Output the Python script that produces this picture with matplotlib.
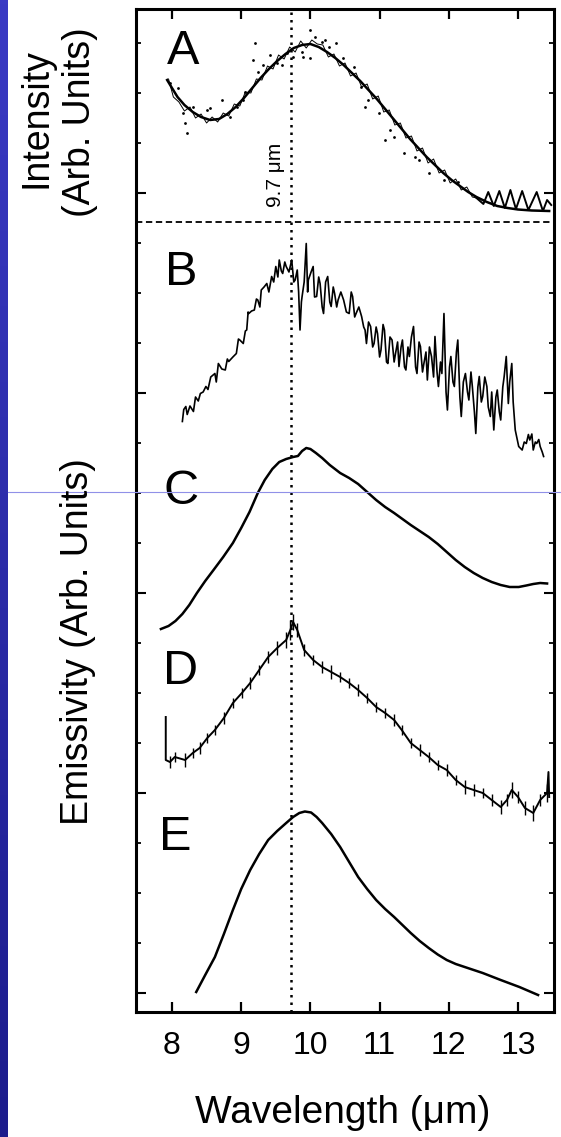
import matplotlib
matplotlib.use("Agg")
import matplotlib.pyplot as plt
import numpy as np
from matplotlib.lines import Line2D
from matplotlib.colors import LinearSegmentedColormap

plt.rcParams['font.family'] = ['Liberation Sans', 'DejaVu Sans']

# ---------------- data (wavelength in micron, intensity/emissivity in arbitrary stacked units)
xticks = [8, 9, 10, 11, 12, 13]
xticklabels = ["8", "9", "10", "11", "12", "13"]
panel_labels = ["A", "B", "C", "D", "E"]
panel_label_x = [8.16, 8.13, 8.13, 8.12, 8.04]
panel_label_y = [19.22, 14.78, 10.40, 6.82, 3.48]
line_wavelength = 9.72
sep_level = 15.80

A_fit_x = [7.93, 8.00, 8.08, 8.18, 8.30, 8.42, 8.55, 8.68, 8.80, 8.92, 9.04, 9.16, 9.28, 9.40,
           9.52, 9.64, 9.76, 9.88, 10.00, 10.12, 10.24, 10.36, 10.48, 10.60, 10.72, 10.84, 10.96,
           11.08, 11.20, 11.32, 11.44, 11.56, 11.68, 11.80, 11.92, 12.04, 12.16, 12.28, 12.40,
           12.55, 12.70, 12.85, 13.00, 13.20, 13.45]
A_fit_y = [18.64, 18.48, 18.30, 18.14, 18.00, 17.90, 17.84, 17.86, 17.96, 18.10, 18.28, 18.48,
           18.68, 18.86, 19.02, 19.16, 19.28, 19.34, 19.36, 19.30, 19.20, 19.08, 18.94, 18.78,
           18.62, 18.44, 18.26, 18.06, 17.86, 17.66, 17.46, 17.28, 17.10, 16.94, 16.78, 16.64,
           16.52, 16.40, 16.30, 16.20, 16.12, 16.08, 16.05, 16.03, 16.02]
A_data_x = [7.95, 8.02, 8.10, 8.18, 8.26, 8.34, 8.42, 8.50, 8.58, 8.66, 8.74, 8.82, 8.90, 8.98,
            9.06, 9.14, 9.22, 9.30, 9.38, 9.46, 9.54, 9.62, 9.70, 9.78, 9.86, 9.94, 10.02, 10.10,
            10.18, 10.26, 10.34, 10.42, 10.50, 10.58, 10.66, 10.74, 10.82, 10.90, 10.98, 11.06,
            11.14, 11.22, 11.30, 11.38, 11.46, 11.54, 11.62, 11.70, 11.78, 11.86, 11.94, 12.02,
            12.10, 12.18, 12.26, 12.34, 12.40]
A_data_y = [18.66, 18.30, 18.20, 18.02, 18.10, 17.88, 17.96, 17.78, 17.90, 17.80, 17.98, 17.92,
            18.16, 18.12, 18.40, 18.38, 18.66, 18.64, 18.92, 18.86, 19.14, 19.06, 19.30, 19.20,
            19.42, 19.28, 19.44, 19.36, 19.34, 19.10, 19.16, 18.92, 18.98, 18.72, 18.78, 18.50,
            18.56, 18.26, 18.32, 18.00, 18.04, 17.74, 17.78, 17.48, 17.52, 17.22, 17.28, 16.98,
            17.06, 16.78, 16.84, 16.58, 16.66, 16.44, 16.50, 16.30, 16.28]
A_dots_x = [7.97, 8.09, 8.16, 8.22, 8.19, 8.30, 8.51, 8.55, 8.72, 8.84, 8.94, 9.03, 9.05, 9.20,
            9.17, 9.24, 9.32, 9.42, 9.52, 9.59, 9.66, 9.75, 9.88, 9.89, 9.99, 9.99, 10.07, 10.17,
            10.21, 10.27, 10.37, 10.47, 10.63, 10.73, 10.83, 10.99, 11.15, 11.21, 11.35, 11.57,
            11.71, 11.93, 12.13, 10.79, 11.08, 11.51]
A_dots_y = [18.58, 18.48, 17.98, 17.58, 17.78, 18.10, 18.04, 18.08, 18.24, 17.90, 18.10, 18.24,
            18.40, 19.38, 19.04, 18.80, 18.94, 19.14, 18.98, 18.94, 19.18, 19.10, 19.20, 19.10,
            19.08, 19.64, 19.50, 19.40, 19.44, 19.30, 19.38, 19.08, 18.90, 18.50, 18.24, 17.98,
            17.64, 17.50, 17.18, 17.04, 16.78, 16.64, 16.60, 18.10, 17.44, 17.10]
A_wig_x = [12.40, 12.50, 12.57, 12.65, 12.73, 12.81, 12.89, 12.97, 13.06, 13.15, 13.27, 13.36, 13.42, 13.48]
A_wig_y = [16.28, 16.16, 16.40, 16.12, 16.42, 16.08, 16.44, 16.06, 16.42, 16.04, 16.40, 16.02, 16.24, 16.14]

B_x = [8.15, 8.17, 8.20, 8.22, 8.26, 8.31, 8.34, 8.38, 8.41, 8.45, 8.49, 8.52, 8.56, 8.62, 8.64,
       8.67, 8.72, 8.77, 8.80, 8.82, 8.88, 8.93, 8.96, 8.98, 9.03, 9.06, 9.08, 9.10, 9.11, 9.15,
       9.19, 9.22, 9.24, 9.27, 9.29, 9.33, 9.37, 9.40, 9.44, 9.47, 9.50, 9.53, 9.55, 9.58, 9.60,
       9.63, 9.65, 9.69, 9.73, 9.76, 9.78, 9.81, 9.83, 9.85, 9.87, 9.88, 9.91, 9.94, 9.96, 9.97,
       10.01, 10.04, 10.06, 10.09, 10.12, 10.14, 10.17, 10.19, 10.22, 10.25, 10.28, 10.30, 10.33,
       10.35, 10.38, 10.40, 10.44, 10.48, 10.52, 10.56, 10.59, 10.61, 10.64, 10.66, 10.70, 10.74,
       10.77, 10.79, 10.81, 10.84, 10.87, 10.90, 10.92, 10.95, 10.97, 11.00, 11.02, 11.05, 11.07,
       11.10, 11.12, 11.15, 11.18, 11.21, 11.23, 11.26, 11.28, 11.31, 11.33, 11.36, 11.38, 11.41,
       11.43, 11.46, 11.49, 11.52, 11.54, 11.57, 11.59, 11.62, 11.64, 11.67, 11.69, 11.72, 11.75,
       11.78, 11.80, 11.83, 11.85, 11.88, 11.90, 11.93, 11.96, 11.98, 12.01, 12.03, 12.06, 12.08,
       12.11, 12.13, 12.16, 12.18, 12.21, 12.24, 12.27, 12.29, 12.32, 12.34, 12.37, 12.39, 12.42,
       12.44, 12.47, 12.49, 12.52, 12.55, 12.57, 12.60, 12.62, 12.65, 12.68, 12.70, 12.73, 12.75,
       12.78, 12.80, 12.83, 12.86, 12.88, 12.91, 12.93, 12.96, 13.01, 13.06, 13.09, 13.12, 13.15,
       13.17, 13.20, 13.22, 13.25, 13.27, 13.30, 13.32, 13.35, 13.37]
B_y = [11.81, 12.05, 12.11, 11.95, 12.12, 12.01, 12.30, 12.22, 12.37, 12.40, 12.51, 12.45, 12.70,
       12.77, 12.60, 12.97, 12.86, 12.84, 13.06, 13.01, 13.10, 13.17, 13.46, 13.44, 13.37, 13.62,
       13.64, 14.00, 13.97, 14.02, 14.04, 14.26, 14.24, 14.10, 14.44, 14.50, 14.57, 14.40, 14.71,
       14.60, 14.91, 14.70, 15.04, 14.82, 14.77, 15.00, 14.91, 14.80, 15.04, 14.60, 14.64, 14.84,
       14.40, 13.64, 14.20, 14.31, 14.60, 15.37, 14.40, 14.64, 14.80, 14.91, 14.30, 14.31, 14.70,
       14.57, 14.10, 13.97, 14.60, 14.71, 14.20, 14.11, 14.50, 14.37, 14.10, 14.24, 14.40, 14.24,
       14.00, 13.97, 14.40, 14.31, 13.90, 13.97, 14.10, 13.91, 13.70, 13.64, 13.37, 13.80, 13.71,
       13.30, 13.37, 13.70, 13.57, 13.10, 13.24, 13.75, 13.64, 13.00, 12.97, 13.50, 13.44, 13.00,
       13.17, 13.40, 12.91, 13.30, 13.44, 12.90, 12.84, 13.30, 13.11, 13.50, 13.71, 12.90, 12.77,
       13.40, 13.31, 12.80, 12.97, 13.20, 12.64, 13.30, 13.11, 12.70, 13.51, 12.80, 12.51, 13.00,
       12.77, 13.97, 12.40, 12.04, 12.90, 13.11, 12.60, 12.51, 13.20, 13.44, 12.30, 11.91, 12.60,
       12.77, 12.40, 12.24, 12.80, 12.51, 12.00, 11.57, 12.50, 12.71, 12.20, 12.31, 12.70, 12.51,
       12.10, 11.91, 12.40, 11.64, 12.30, 12.44, 12.00, 11.84, 12.50, 12.71, 13.11, 12.17, 12.60,
       12.97, 12.20, 11.64, 11.31, 11.24, 11.40, 11.37, 11.55, 11.44, 11.56, 11.24, 11.40, 11.37,
       11.45, 11.31, 11.20, 11.11]

C_x = [7.84, 7.95, 8.05, 8.15, 8.25, 8.36, 8.48, 8.60, 8.74, 8.88, 9.00, 9.12, 9.24, 9.34, 9.45,
       9.55, 9.65, 9.75, 9.82, 9.88, 9.94, 10.00, 10.08, 10.17, 10.28, 10.43, 10.56, 10.69, 10.82,
       10.95, 11.08, 11.21, 11.33, 11.45, 11.58, 11.71, 11.84, 11.97, 12.10, 12.23, 12.36, 12.49,
       12.62, 12.75, 12.88, 13.01, 13.12, 13.22, 13.32, 13.42]
C_y = [7.66, 7.72, 7.82, 7.96, 8.14, 8.38, 8.62, 8.84, 9.10, 9.38, 9.68, 10.00, 10.38, 10.64, 10.86,
       11.00, 11.06, 11.10, 11.12, 11.22, 11.28, 11.26, 11.18, 11.08, 10.94, 10.78, 10.68, 10.56,
       10.40, 10.24, 10.10, 9.98, 9.86, 9.74, 9.62, 9.50, 9.36, 9.20, 9.04, 8.90, 8.78, 8.68, 8.60,
       8.54, 8.50, 8.50, 8.53, 8.56, 8.58, 8.57]

D_x = [7.91, 7.91, 7.97, 8.04, 8.19, 8.30, 8.40, 8.51, 8.62, 8.75, 8.88, 9.01, 9.13, 9.26, 9.39,
       9.52, 9.65, 9.71, 9.75, 9.81, 9.91, 10.04, 10.17, 10.30, 10.43, 10.56, 10.69, 10.82, 10.95,
       11.08, 11.21, 11.32, 11.45, 11.58, 11.71, 11.84, 11.97, 12.10, 12.23, 12.36, 12.49, 12.62,
       12.75, 12.84, 12.91, 13.00, 13.10, 13.22, 13.32, 13.42, 13.44, 13.45]
D_y = [5.90, 5.04, 5.00, 5.10, 5.04, 5.18, 5.28, 5.48, 5.64, 5.88, 6.18, 6.38, 6.58, 6.84, 7.10,
       7.28, 7.44, 7.64, 7.80, 7.64, 7.24, 7.04, 6.90, 6.80, 6.70, 6.58, 6.44, 6.28, 6.10, 5.98,
       5.84, 5.64, 5.38, 5.24, 5.10, 4.94, 4.84, 4.64, 4.50, 4.44, 4.38, 4.24, 4.10, 4.24, 4.44,
       4.30, 4.08, 3.98, 4.24, 4.38, 4.80, 4.30]
D_err = [0.0, 0.0, 0.12, 0.10, 0.14, 0.10, 0.12, 0.10, 0.10, 0.12, 0.10, 0.10, 0.12, 0.10, 0.12,
         0.14, 0.16, 0.20, 0.16, 0.14, 0.12, 0.10, 0.12, 0.14, 0.10, 0.10, 0.12, 0.10, 0.10, 0.10,
         0.12, 0.10, 0.10, 0.12, 0.10, 0.10, 0.12, 0.10, 0.14, 0.12, 0.10, 0.12, 0.14, 0.12, 0.16,
         0.12, 0.14, 0.16, 0.12, 0.18, 0.0, 0.0]

E_x = [8.35, 8.48, 8.62, 8.75, 8.88, 9.00, 9.13, 9.26, 9.39, 9.52, 9.65, 9.75, 9.84, 9.92, 10.01,
       10.09, 10.17, 10.30, 10.43, 10.56, 10.69, 10.82, 10.95, 11.08, 11.21, 11.33, 11.45, 11.58,
       11.71, 11.84, 11.97, 12.10, 12.23, 12.49, 12.75, 13.02, 13.29]
E_y = [0.40, 0.74, 1.10, 1.56, 2.04, 2.46, 2.84, 3.16, 3.44, 3.62, 3.78, 3.90, 3.98, 4.01, 3.99,
       3.90, 3.78, 3.56, 3.30, 3.00, 2.70, 2.46, 2.24, 2.06, 1.90, 1.74, 1.58, 1.42, 1.28, 1.15,
       1.04, 0.96, 0.90, 0.78, 0.64, 0.50, 0.34]

ytick_major = [0.38, 4.38, 8.38, 12.38, 16.38]
ytick_minor = [0.38 + k for k in range(20)]

# ---------------- figure
W, H = 561, 1137
fig = plt.figure(figsize=(W / 100, H / 100), dpi=100)
fig.patch.set_facecolor('white')

# blue slide strip on the left
bax = fig.add_axes([0, 0, 8 / W, 1])
grad = np.linspace(0, 1, 256).reshape(-1, 1)
cm = LinearSegmentedColormap.from_list('b', ['#3a3ac4', '#1c1c8c'])
bax.imshow(grad, aspect='auto', cmap=cm, extent=[0, 1, 0, 1])
bax.axis('off')
fig.add_artist(Line2D([8 / W, 1], [1 - 492 / H] * 2, color='#9090e8', lw=0.8))

ax = fig.add_axes([136 / W, 1 - 1012 / H, (554 - 136) / W, (1012 - 9) / H])
ax.set_xlim(7.48, 13.52)
ax.set_ylim(0, 20.06)
for s in ax.spines.values():
    s.set_linewidth(2.2)

ax.set_xticks(xticks)
ax.set_xticklabels(xticklabels, fontsize=23)
ax.set_yticks(ytick_major)
ax.set_yticks(ytick_minor, minor=True)
ax.set_yticklabels([])
ax.tick_params(axis='x', direction='in', top=True, length=7.5, width=1.6, pad=14)
ax.tick_params(axis='y', which='major', direction='in', left=True, right=True, length=7, width=1.5)
ax.tick_params(axis='y', which='minor', direction='in', left=True, right=True, length=3.5, width=1.3)

lw = 1.8
ax.plot(A_fit_x, A_fit_y, color='k', lw=lw)
ax.plot(A_data_x, A_data_y, color='k', lw=0.7)
ax.plot(A_dots_x, A_dots_y, 'o', color='k', ms=2.0, mew=0)
ax.plot(A_wig_x, A_wig_y, color='k', lw=1.4)
ax.plot(B_x, B_y, color='k', lw=1.2)
ax.plot(C_x, C_y, color='k', lw=lw)
ax.errorbar(D_x, D_y, yerr=D_err, fmt='-', color='k', lw=1.4, elinewidth=1.0, capsize=0)
ax.plot(E_x, E_y, color='k', lw=lw)

ax.axvline(line_wavelength, color='k', lw=1.8, linestyle=(0, (1, 2.0)))
ax.axhline(sep_level, color='k', lw=1.3, linestyle=(0, (3.5, 2)))
ax.text(9.50, 16.75, '9.7 μm', rotation=90, fontsize=15, ha='center', va='center')

for lab, lx, ly in zip(panel_labels, panel_label_x, panel_label_y):
    ax.text(lx, ly, lab, fontsize=35, ha='center', va='center')

fig.text(343 / W, 1 - 1113 / H, 'Wavelength (μm)', fontsize=28, ha='center', va='center')
fig.text(36 / W, 1 - 118 / H, 'Intensity', fontsize=27, rotation=90, ha='center', va='center')
fig.text(80 / W, 1 - 122 / H, '(Arb. Units)', fontsize=27, rotation=90, ha='center', va='center')
fig.text(78 / W, 1 - 642 / H, 'Emissivity (Arb. Units)', fontsize=27, rotation=90, ha='center', va='center')

fig.savefig('out.png', dpi=100)
